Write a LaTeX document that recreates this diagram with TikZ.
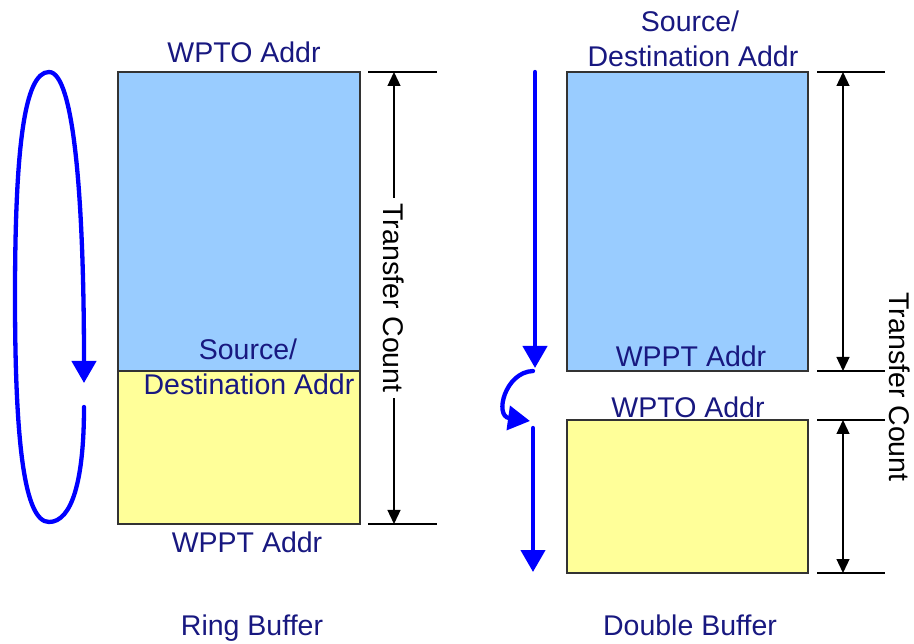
\documentclass[tikz,border=0pt]{standalone}
\usepackage{fontspec}
\setmainfont{Liberation Sans}
\usetikzlibrary{arrows.meta}
\definecolor{addrtext}{RGB}{24,24,128}
\definecolor{bufblue}{RGB}{153,204,255}
\definecolor{bufyellow}{RGB}{255,255,153}

\begin{document}
\begin{tikzpicture}[x=1pt, y=-1pt,
			every node/.style = {font=\fontsize{28.5}{34}\selectfont},
			addr/.style = {text=addrtext, anchor=base, inner sep=0pt},
			region/.style = {draw=black!80, line width=1.3pt, inner sep=0pt},
			tick/.style = {draw=black, line width=1.2pt},
			span/.style = {draw=black, line width=1.3pt,
				{Triangle[length=14pt,width=13pt]}-{Triangle[length=14pt,width=13pt]}},
			flow/.style = {draw=blue, line width=4.3pt, line cap=round,
				-{Triangle[length=22pt,width=24pt]}}]
		\useasboundingbox (0,0) rectangle (914,644);

		% ring buffer
		\node[region, fill=bufblue, minimum width=242pt, minimum height=299pt]
			(ringtop) at (239,221.5) {};
		\node[region, fill=bufyellow, minimum width=242pt, minimum height=153pt]
			(ringbot) at (239,447.5) {};
		\node[addr] (ringwpto) at (244,63) {WPTO Addr};
		\node[addr] (ringsrc) at (248,360) {Source/};
		\node[addr] (ringdst) at (249,395) {Destination Addr};
		\node[addr] (ringwppt) at (247,552) {WPPT Addr};
		\node[addr] (ringname) at (252,635) {Ring Buffer};

		\coordinate (rt1) at (368,72);
		\coordinate (rt2) at (437,72);
		\coordinate (rb1) at (368,524);
		\coordinate (rb2) at (437,524);
		\draw[tick] (rt1) -- (rt2);
		\draw[tick] (rb1) -- (rb2);
		\coordinate (rs1) at (394,72);
		\coordinate (rs2) at (394,524);
		\draw[span] (rs1) -- node[midway, rotate=-90, fill=white, inner sep=5pt]
			(ringcount) {Transfer Count} (rs2);

		\coordinate (loopstart) at (84,407);
		\coordinate (loopend) at (84,383);
		\draw[flow] (loopstart) .. controls (84,480) and (72,522) .. (49,522)
			.. controls (24,522) and (15,440) .. (15,297)
			.. controls (15,150) and (24,72) .. (49,72)
			.. controls (74,72) and (84,200) .. (loopend);

		% double buffer
		\node[region, fill=bufblue, minimum width=241pt, minimum height=299pt]
			(dbltop) at (687.5,221.5) {};
		\node[region, fill=bufyellow, minimum width=241pt, minimum height=153pt]
			(dblbot) at (687.5,496.5) {};
		\node[addr] (dblsrc) at (690,32) {Source/};
		\node[addr] (dbldst) at (693,67) {Destination Addr};
		\node[addr] (dblwppt) at (691,367) {WPPT Addr};
		\node[addr] (dblwpto) at (688,418) {WPTO Addr};
		\node[addr] (dblname) at (690,635) {Double Buffer};

		\coordinate (dt1) at (817,72);
		\coordinate (dt2) at (885,72);
		\coordinate (dm1) at (817,371);
		\coordinate (dm2) at (885,371);
		\coordinate (dn1) at (817,420);
		\coordinate (dn2) at (885,420);
		\coordinate (db1) at (817,573);
		\coordinate (db2) at (885,573);
		\draw[tick] (dt1) -- (dt2);
		\draw[tick] (dm1) -- (dm2);
		\draw[tick] (dn1) -- (dn2);
		\draw[tick] (db1) -- (db2);
		\draw[span] (843,72) -- (843,371);
		\draw[span] (843,420) -- (843,573);
		\node[rotate=-90, inner sep=0pt] (dblcount) at (900,387) {Transfer Count};

		\coordinate (f1) at (535,72);
		\coordinate (f2) at (535,368);
		\coordinate (f3) at (533,371);
		\coordinate (f4) at (530,421);
		\coordinate (f5) at (533,428);
		\coordinate (f6) at (533,572);
		\draw[flow] (f1) -- (f2);
		\draw[flow] (f3) .. controls (505,372) and (494,416) .. (f4);
		\draw[flow] (f5) -- (f6);
\end{tikzpicture}
\end{document}
